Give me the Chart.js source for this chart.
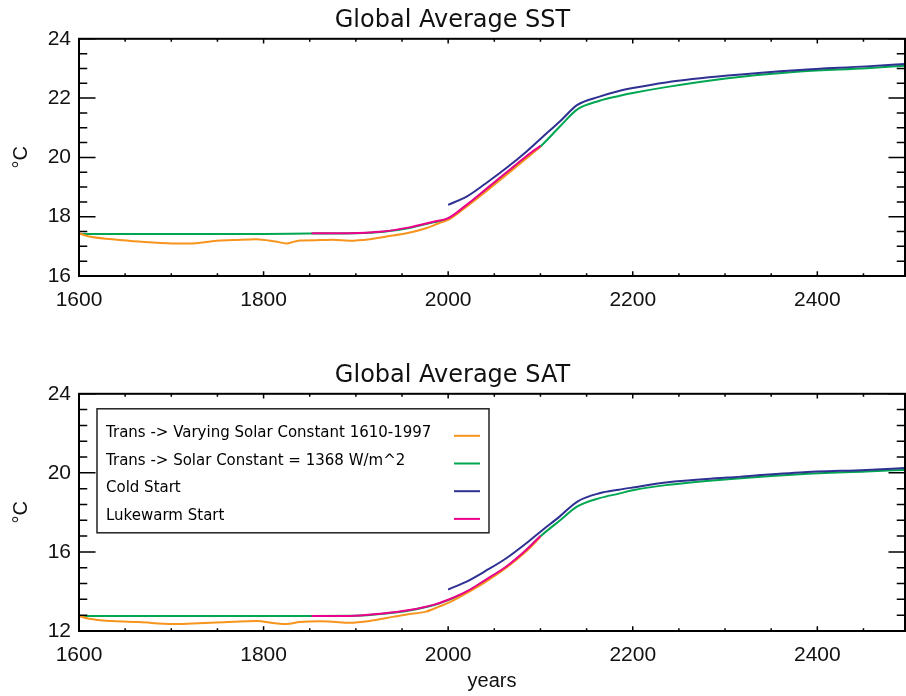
<!DOCTYPE html>
<html>
<head>
<meta charset="utf-8">
<script src="https://cdn.jsdelivr.net/npm/chart.js@4.4.0/dist/chart.umd.min.js"></script>
<style>
  body { margin: 0; background: #fff; }
  .box { position: absolute; left: 0; width: 906px; height: 348px; }
</style>
</head>
<body>
<div class="box" style="top:0"><canvas id="sst" width="906" height="348"></canvas></div>
<div class="box" style="top:348px"><canvas id="sat" width="906" height="348"></canvas></div>
<script>
// run labels + colours (legend order)
var legendLabels = ['Trans -> Varying Solar Constant 1610-1997', 'Trans -> Solar Constant = 1368 W/m^2', 'Cold Start', 'Lukewarm Start'];
var legendColors = ['#F7941D', '#00A651', '#2E3192', '#EC008C'];

// Trans -> varying solar constant (orange)
var orangeYears = [1600, 1611, 1636, 1665, 1701, 1723, 1749, 1767, 1792, 1813, 1825, 1839, 1861, 1875, 1893, 1915, 1933, 1955, 1976, 1990, 2000, 2020, 2041, 2063, 2085, 2100];
var sstOrange = [17.44, 17.33, 17.24, 17.16, 17.10, 17.10, 17.19, 17.21, 17.24, 17.16, 17.10, 17.20, 17.21, 17.22, 17.19, 17.24, 17.33, 17.44, 17.61, 17.78, 17.89, 18.34, 18.85, 19.41, 19.97, 20.37];
var satOrange = [12.76, 12.62, 12.50, 12.45, 12.35, 12.38, 12.43, 12.47, 12.51, 12.39, 12.35, 12.45, 12.49, 12.47, 12.42, 12.51, 12.66, 12.84, 12.98, 13.23, 13.42, 13.92, 14.50, 15.20, 16.05, 16.76];

// Trans -> solar constant 1368 (green)
var greenYears = [1600, 1700, 1800, 1850, 1900, 1930, 1958, 1984, 2000, 2020, 2041, 2063, 2085, 2100, 2121, 2140, 2164, 2185, 2200, 2236, 2303, 2381, 2453, 2495];
var sstGreen = [17.42, 17.42, 17.42, 17.43, 17.44, 17.49, 17.62, 17.81, 17.93, 18.38, 18.90, 19.46, 20.02, 20.37, 21.04, 21.62, 21.91, 22.07, 22.17, 22.37, 22.67, 22.90, 23.01, 23.09];
var satGreen = [12.76, 12.76, 12.76, 12.76, 12.77, 12.87, 13.04, 13.30, 13.56, 13.98, 14.58, 15.24, 16.10, 16.79, 17.59, 18.30, 18.72, 18.95, 19.12, 19.38, 19.68, 19.93, 20.07, 20.15];

// Cold start (blue)
var blueYears = [2000, 2020, 2041, 2063, 2085, 2102, 2121, 2140, 2164, 2185, 2200, 2236, 2303, 2381, 2453, 2495];
var sstBlue = [18.40, 18.68, 19.13, 19.64, 20.20, 20.68, 21.21, 21.77, 22.05, 22.24, 22.34, 22.53, 22.76, 22.95, 23.07, 23.15];
var satBlue = [14.10, 14.50, 15.05, 15.68, 16.45, 17.10, 17.80, 18.55, 18.97, 19.15, 19.26, 19.51, 19.76, 20.02, 20.15, 20.24];

// Lukewarm start (magenta)
var magentaYears = [1852, 1893, 1929, 1958, 1984, 2000, 2020, 2041, 2063, 2085, 2100];
var sstMagenta = [17.44, 17.44, 17.50, 17.64, 17.83, 17.95, 18.40, 18.93, 19.49, 20.05, 20.39];
var satMagenta = [12.76, 12.76, 12.89, 13.06, 13.32, 13.58, 14.00, 14.60, 15.26, 16.12, 16.81];

var xTicks = [1600, 1800, 2000, 2200, 2400];

function pts(years, vals) {
    return years.map(function (x, i) { return { x: x, y: vals[i] }; });
}

// box round the plot + inward IDL style ticks on all four sides
var frame = {
    id: 'frame',
    afterDatasetsDraw: function (chart, args, o) {
        var ctx = chart.ctx, a = chart.chartArea, x = chart.scales.x, y = chart.scales.y;
        var w = a.right - a.left, h = a.bottom - a.top;
        ctx.save();
        ctx.strokeStyle = '#000';
        ctx.lineWidth = 1.5;
        ctx.beginPath();
        for (var i = 0; ; i++) {
            var v = y.min + i * o.yMinor;
            if (v > y.max + 1e-6) break;
            var major = Math.abs(v / o.yMajor - Math.round(v / o.yMajor)) < 1e-6;
            var len = w * (major ? 0.02 : 0.01);
            var py = y.getPixelForValue(v);
            ctx.moveTo(a.left, py); ctx.lineTo(a.left + len, py);
            ctx.moveTo(a.right, py); ctx.lineTo(a.right - len, py);
        }
        for (var j = 0; ; j++) {
            var xv = x.min + j * o.xMinor;
            if (xv > x.max) break;
            var xmaj = (xv - x.min) % o.xMajor === 0;
            var xl = h * (xmaj ? 0.02 : 0.012);
            var px = x.getPixelForValue(xv);
            ctx.moveTo(px, a.bottom); ctx.lineTo(px, a.bottom - xl);
            ctx.moveTo(px, a.top); ctx.lineTo(px, a.top + xl);
        }
        ctx.stroke();
        ctx.lineWidth = 2;
        ctx.strokeRect(a.left, a.top, w, h);
        ctx.restore();
    }
};

// legend with text on the left and line sample on the right
var boxLegend = {
    id: 'boxLegend',
    afterDraw: function (chart, args, o) {
        if (!o.show) return;
        var ctx = chart.ctx, a = chart.chartArea;
        var bx = a.left + 18, by = a.top + 15;
        ctx.save();
        ctx.strokeStyle = '#222';
        ctx.lineWidth = 1.5;
        ctx.strokeRect(bx, by, 392, 124);
        ctx.font = '15px "DejaVu Sans"';
        ctx.fillStyle = '#000';
        ctx.textBaseline = 'alphabetic';
        legendLabels.forEach(function (t, i) {
            var yb = by + 28 + i * 27.7;
            ctx.fillText(t, a.left + 27, yb);
            ctx.strokeStyle = legendColors[i];
            ctx.lineWidth = 2;
            ctx.beginPath();
            ctx.moveTo(a.left + 375, yb - 1);
            ctx.lineTo(a.left + 401, yb - 1);
            ctx.stroke();
        });
        ctx.restore();
    }
};

Chart.register(frame, boxLegend);

function line(data, color, order) {
    return {
        data: data, borderColor: color, borderWidth: 2, pointRadius: 0, fill: false,
        showLine: true, cubicInterpolationMode: 'monotone', order: order
    };
}

function makeChart(id, title, orange, green, blue, magenta, yMin, yMax, yStep, yMinor, titleTop, xHeight, showYears) {
    return new Chart(document.getElementById(id), {
        type: 'scatter',
        data: {
            datasets: [
                line(pts(greenYears, green), legendColors[1], 4),
                line(pts(orangeYears, orange), legendColors[0], 3),
                line(pts(blueYears, blue), legendColors[2], 2),
                line(pts(magentaYears, magenta), legendColors[3], 1)
            ]
        },
        options: {
            responsive: false,
            animation: false,
            devicePixelRatio: 1,
            layout: { padding: { left: 0, right: 1, top: 0, bottom: 0 } },
            plugins: {
                legend: { display: false },
                tooltip: { enabled: false },
                title: {
                    display: true, text: title, color: '#111',
                    font: { family: 'DejaVu Sans', size: 24, weight: 'normal' },
                    padding: { top: titleTop, bottom: 4 }
                },
                frame: { yMajor: yStep, yMinor: yMinor, xMajor: 200, xMinor: 50 },
                boxLegend: { show: showYears }
            },
            scales: {
                x: {
                    type: 'linear', min: 1600, max: 2495,
                    grid: { display: false }, border: { display: false },
                    afterBuildTicks: function (s) { s.ticks = xTicks.map(function (v) { return { value: v }; }); },
                    ticks: {
                        color: '#111', padding: 4, maxRotation: 0,
                        font: { family: 'Liberation Sans', size: 21 },
                        callback: function (v) { return String(v); }
                    },
                    title: {
                        display: showYears, text: 'years', color: '#111',
                        font: { family: 'Liberation Sans', size: 20 },
                        padding: { top: 0, bottom: 3 }
                    },
                    afterFit: function (s) { s.height = xHeight; }
                },
                y: {
                    min: yMin, max: yMax,
                    grid: { display: false }, border: { display: false },
                    ticks: {
                        stepSize: yStep, color: '#111', padding: 0,
                        font: { family: 'Liberation Sans', size: 21 },
                        callback: function (v) { return String(v); }
                    },
                    title: {
                        display: true, text: '°C', color: '#111',
                        font: { family: 'Liberation Sans', size: 20 },
                        padding: { top: 9, bottom: 0 }
                    },
                    afterFit: function (s) { s.width = 79; }
                }
            }
        }
    });
}

makeChart('sst', 'Global Average SST', sstOrange, sstGreen, sstBlue, sstMagenta, 16, 24, 2, 0.5, 6, 72, false);
makeChart('sat', 'Global Average SAT', satOrange, satGreen, satBlue, satMagenta, 12, 24, 4, 0.8, 13, 65, true);
</script>
</body>
</html>
